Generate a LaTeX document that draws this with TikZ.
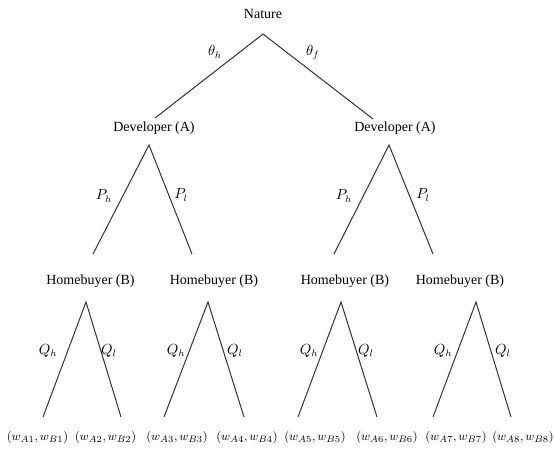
\documentclass[tikz,border=0pt]{standalone}
\usepackage{fontspec}
\setmainfont{Liberation Serif}
\begin{document}
\begin{tikzpicture}[x=0.75pt,y=-0.75pt,
  every node/.style={inner sep=0pt,font=\fontsize{10.5}{12}\selectfont},
  player/.style={anchor=center},
  payoff/.style={anchor=center,font=\fontsize{9.5}{11}\selectfont},
  move/.style={anchor=center},
  branch/.style={line width=0.75pt,draw=black!80}]
\useasboundingbox (0,0) rectangle (555,450);

% ---- decision nodes (player labels) ----
\node[player] (nat) at (263,14) {Nature};
\node[player] (devL) at (154,128) {Developer (A)};
\node[player] (devR) at (395,128) {Developer (A)};
\node[player] (hb1) at (90.5,281) {Homebuyer (B)};
\node[player] (hb2) at (214,281) {Homebuyer (B)};
\node[player] (hb3) at (345,281) {Homebuyer (B)};
\node[player] (hb4) at (460,281) {Homebuyer (B)};

% ---- terminal payoffs ----
\node[payoff] (t1) at (37.5,437) {$(w_{A1},w_{B1})$};
\node[payoff] (t2) at (105.5,437) {$(w_{A2},w_{B2})$};
\node[payoff] (t3) at (177,437) {$(w_{A3},w_{B3})$};
\node[payoff] (t4) at (247,437) {$(w_{A4},w_{B4})$};
\node[payoff] (t5) at (315,437) {$(w_{A5},w_{B5})$};
\node[payoff] (t6) at (387,437) {$(w_{A6},w_{B6})$};
\node[payoff] (t7) at (456,437) {$(w_{A7},w_{B7})$};
\node[payoff] (t8) at (523,437) {$(w_{A8},w_{B8})$};

% ---- branch end points ----
\coordinate (natTop) at (263,34);
\coordinate (natL) at (155,118);
\coordinate (natR) at (373,119);

\coordinate (devLTop) at (149,145);
\coordinate (devLl) at (93,254);
\coordinate (devLr) at (192,254);
\coordinate (devRTop) at (389,145);
\coordinate (devRl) at (334,254);
\coordinate (devRr) at (433,254);

\coordinate (hb1Top) at (86,302);
\coordinate (hb1l) at (43,417);
\coordinate (hb1r) at (121,417);
\coordinate (hb2Top) at (208,302);
\coordinate (hb2l) at (164,417);
\coordinate (hb2r) at (244,417);
\coordinate (hb3Top) at (341,302);
\coordinate (hb3l) at (298,417);
\coordinate (hb3r) at (377,417);
\coordinate (hb4Top) at (476,302);
\coordinate (hb4l) at (433,417);
\coordinate (hb4r) at (511,417);

% ---- branches ----
\draw[branch] (natL) -- (natTop) -- (natR);
\draw[branch] (devLl) -- (devLTop) -- (devLr);
\draw[branch] (devRl) -- (devRTop) -- (devRr);
\draw[branch] (hb1l) -- (hb1Top) -- (hb1r);
\draw[branch] (hb2l) -- (hb2Top) -- (hb2r);
\draw[branch] (hb3l) -- (hb3Top) -- (hb3r);
\draw[branch] (hb4l) -- (hb4Top) -- (hb4r);

% ---- move labels ----
\node[move] (mth) at (215,52) {$\theta_h$};
\node[move] (mtf) at (313,52) {$\theta_f$};
\node[move] (mp1) at (104,196) {$P_h$};
\node[move] (mp2) at (181,195) {$P_l$};
\node[move] (mp3) at (344,196) {$P_h$};
\node[move] (mp4) at (423,195) {$P_l$};
\node[move] (mq1) at (48,351) {$Q_h$};
\node[move] (mq2) at (109,351) {$Q_l$};
\node[move] (mq3) at (176,351) {$Q_h$};
\node[move] (mq4) at (235,351) {$Q_l$};
\node[move] (mq5) at (309,351) {$Q_h$};
\node[move] (mq6) at (366,351) {$Q_l$};
\node[move] (mq7) at (443,351) {$Q_h$};
\node[move] (mq8) at (503,351) {$Q_l$};
\end{tikzpicture}
\end{document}
